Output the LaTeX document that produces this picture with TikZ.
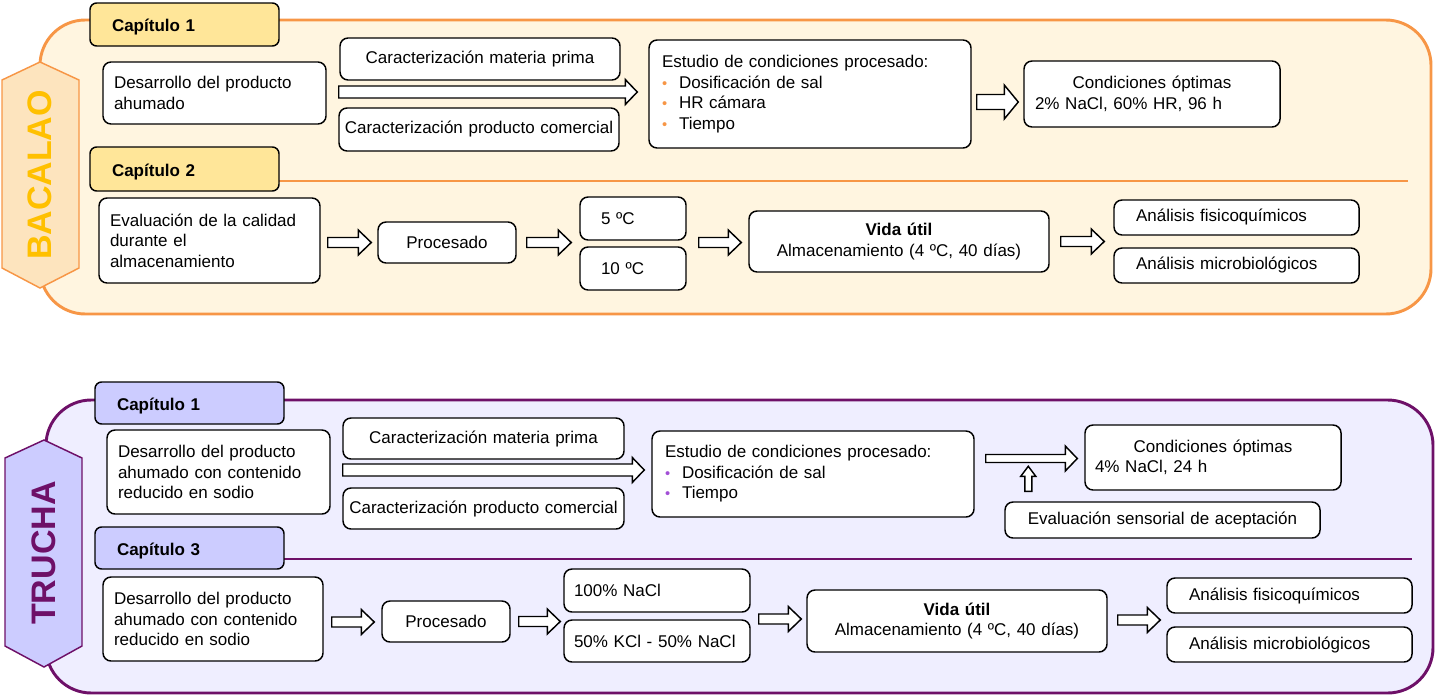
\documentclass[tikz,border=0pt]{standalone}
\usepackage{fontspec}
\setmainfont{Liberation Sans}
\usetikzlibrary{calc}
\definecolor{bacline}{HTML}{F79646}
\definecolor{bacfill}{HTML}{FFF5E0}
\definecolor{bachex}{HTML}{FDE4BE}
\definecolor{bactab}{HTML}{FFE699}
\definecolor{bactext}{HTML}{FFC000}
\definecolor{truline}{HTML}{6E1068}
\definecolor{trufill}{HTML}{EFEEFF}
\definecolor{trutab}{HTML}{CCCCFF}
\definecolor{trubul}{HTML}{A24FD6}
\newcommand{\bodyfont}{\fontsize{12.75}{15.4}\selectfont}
\newcommand{\bul}[1]{\makebox[12.75pt][l]{\textcolor{#1}{\fontsize{11}{11}\selectfont •}}}
% [options]{name}{x1}{y1}{x2}{y2}{pad}{text}, all in px
\newcommand{\cellbox}[8][]{%
  \pgfmathsetmacro{\cellw}{(#5-#3)*0.75}%
  \pgfmathsetmacro{\cellh}{(#6-#4)*0.75}%
  \pgfmathsetmacro{\celltw}{(#5-#3-2*#7)*0.75}%
  \pgfmathsetmacro{\cellpad}{#7*0.75}%
  \node[cell, minimum width=\cellw pt, minimum height=\cellh pt, text width=\celltw pt,
        inner xsep=\cellpad pt, #1] (#2) at ({(#3+#5)/2},{(#4+#6)/2}) {#8};}
\tikzset{
  cell/.style={draw, fill=white, rounded corners=6pt, line width=1.1pt, font=\bodyfont, align=left, inner ysep=1pt},
  tab/.style={rounded corners=5pt, font=\bodyfont\bfseries, text height=13pt, text depth=2pt},
  panel/.style={line width=2.2pt, rounded corners=34pt},
  hexa/.style={line width=1.1pt},
  sidetitle/.style={rotate=90, font=\fontsize{25.5}{25.5}\selectfont\bfseries},
  blockarrow/.style n args={3}{draw, fill=white, line width=1.1pt, line join=miter,
    to path={let \p1=(\tikztostart), \p2=(\tikztotarget) in
      (\x1,{\y1+#1*0.75pt}) -- ({\x2-#3*0.75pt},{\y1+#1*0.75pt}) -- ({\x2-#3*0.75pt},{\y1+#2*0.75pt})
      -- (\x2,\y1) -- ({\x2-#3*0.75pt},{\y1-#2*0.75pt}) -- ({\x2-#3*0.75pt},{\y1-#1*0.75pt})
      -- (\x1,{\y1-#1*0.75pt}) -- cycle}},
  uparrow/.style n args={3}{draw, fill=white, line width=1.1pt, line join=miter,
    to path={let \p1=(\tikztostart), \p2=(\tikztotarget) in
      ({\x1-#1*0.75pt},\y1) -- ({\x1-#1*0.75pt},{\y2-#3*0.75pt}) -- ({\x1-#2*0.75pt},{\y2-#3*0.75pt})
      -- (\x1,\y2) -- ({\x1+#2*0.75pt},{\y2-#3*0.75pt}) -- ({\x1+#1*0.75pt},{\y2-#3*0.75pt})
      -- ({\x1+#1*0.75pt},\y1) -- cycle}},
}
\begin{document}
\begin{tikzpicture}[x=0.75pt, y=-0.75pt]
\useasboundingbox (0,0) rectangle (1438,696);

% BACALAO
\draw[panel, draw=bacline, fill=bacfill] (40,20) rectangle (1431,314);
\draw[hexa, draw=bacline, fill=bachex] (40,62) -- (79,80) -- (79,268) -- (40,288) -- (2,268) -- (2,80) -- cycle;
\node[sidetitle, text=bactext] (bac) at (40,175) {BACALAO};
\draw[bacline, line width=1.5pt] (270,181) -- (1408,181);
\cellbox[tab, fill=bactab]{cap1}{90}{3}{279}{46}{22}{Capítulo 1}
\cellbox[tab, fill=bactab]{cap2}{90}{147}{279}{191}{22}{Capítulo 2}

\cellbox{des1}{103}{62}{326}{124}{11}{Desarrollo del producto\\ahumado}
\cellbox[align=center]{cmp1}{340}{38}{620}{80}{4}{Caracterización materia prima}
\cellbox[align=center]{cpc1}{339}{108}{619}{151}{4}{Caracterización producto comercial}
\cellbox{est1}{649}{40}{971}{148}{13}{Estudio de condiciones procesado:\\
  \bul{bacline}Dosificación de sal\\\bul{bacline}HR cámara\\\bul{bacline}Tiempo}
\cellbox{opt1}{1024}{61}{1280}{127}{11}{{\centering Condiciones óptimas\par}2\% NaCl, 60\% HR, 96 h}

\cellbox{eva}{99}{198}{320}{283}{11}{Evaluación de la calidad\\durante el\\almacenamiento}
\cellbox[align=center]{pro1}{378}{222}{516}{263}{4}{Procesado}
\cellbox{t5}{580}{197}{686}{240}{21}{5 ºC}
\cellbox{t10}{580}{247}{686}{290}{21}{10 ºC}
\cellbox[align=center]{vid1}{749}{211}{1049}{272}{4}{{\bfseries Vida útil}\\Almacenamiento (4 ºC, 40 días)}
\cellbox{fq1}{1114}{200}{1359}{235}{22}{Análisis fisicoquímicos}
\cellbox{mb1}{1114}{248}{1359}{283}{22}{Análisis microbiológicos}

\draw[blockarrow={6}{12.5}{12}] ($(des1.east)+(12,-1)$) to ($(est1.west)+(-11,0)$);
\draw[blockarrow={7.5}{17}{14}] ($(est1.east)+(5,8)$) to ($(opt1.west)+(-5,0)$);
\draw[blockarrow={5}{12.5}{13}] ($(eva.east)+(7,2)$) to ($(pro1.west)+(-6,0)$);
\draw[blockarrow={5}{12.5}{13}] ($(pro1.east)+(10,0)$) to ($(t5.west)+(-8,0)$);
\draw[blockarrow={5}{12.5}{13}] ($(t5.east |- vid1.west)+(12,1)$) to ($(vid1.west)+(-7,0)$);
\draw[blockarrow={5}{12.5}{13}] ($(vid1.east)+(11,0)$) to ($(fq1.west)+(-9,0)$);

% TRUCHA
\draw[panel, draw=truline, fill=trufill] (46,400) rectangle (1433,693);
\draw[hexa, draw=truline, fill=trutab] (44,440) -- (82,458) -- (82,646) -- (44,667) -- (5,646) -- (5,458) -- cycle;
\node[sidetitle, text=truline] (tru) at (44,553) {TRUCHA};
\draw[truline, line width=1.5pt] (275,559) -- (1412,559);
\cellbox[tab, fill=trutab]{cap1t}{95}{382}{284}{424}{22}{Capítulo 1}
\cellbox[tab, fill=trutab]{cap3}{95}{527}{284}{569}{22}{Capítulo 3}

\cellbox{des2}{107}{430}{330}{514}{11}{Desarrollo del producto\\ahumado con contenido\\reducido en sodio}
\cellbox[align=center]{cmp2}{343}{418}{624}{459}{4}{Caracterización materia prima}
\cellbox[align=center]{cpc2}{343}{488}{624}{529}{4}{Caracterización producto comercial}
\cellbox{est2}{652}{431}{974}{517}{13}{Estudio de condiciones procesado:\\
  \bul{trubul}Dosificación de sal\\\bul{trubul}Tiempo}
\cellbox{opt2}{1085}{425}{1341}{490}{10}{{\centering Condiciones óptimas\par}4\% NaCl, 24 h}
\cellbox[align=center]{sens}{1005}{502}{1320}{538}{4}{Evaluación sensorial de aceptación}

\cellbox{des3}{103}{577}{323}{661}{11}{Desarrollo del producto\\ahumado con contenido\\reducido en sodio}
\cellbox[align=center]{pro2}{382}{601}{510}{642}{4}{Procesado}
\cellbox{n100}{564}{569}{750}{612}{10}{100\% NaCl}
\cellbox{kcl}{564}{620}{750}{662}{10}{50\% KCl - 50\% NaCl}
\cellbox[align=center]{vid2}{807}{590}{1107}{652}{4}{{\bfseries Vida útil}\\Almacenamiento (4 ºC, 40 días)}
\cellbox{fq2}{1167}{578}{1412}{613}{22}{Análisis fisicoquímicos}
\cellbox{mb2}{1167}{627}{1412}{662}{22}{Análisis microbiológicos}

\coordinate (upS) at ($(sens.north west)+(24,-10)$);
\coordinate (upT) at ($(sens.north west)+(24,-35)$);
\draw[blockarrow={6}{12.5}{12}] ($(des2.east)+(12,-2)$) to ($(est2.west)+(-7,0)$);
\draw[blockarrow={4}{12.5}{12}] ($(est2.east |- opt2.west)+(11,1)$) to ($(opt2.west)+(-7,0)$);
\draw[uparrow={3.5}{7.5}{10}] (upS) to (upT);
\draw[blockarrow={5}{12.5}{13}] ($(des3.east)+(8,3)$) to ($(pro2.west)+(-7,0)$);
\draw[blockarrow={5}{12.5}{13}] ($(pro2.east)+(8,0)$) to ($(n100.west)+(-3,0)$);
\draw[blockarrow={5}{12.5}{13}] ($(n100.east |- vid2.west)+(8,-2)$) to ($(vid2.west)+(-5,0)$);
\draw[blockarrow={5}{12.5}{13}] ($(vid2.east)+(10,-1)$) to ($(fq2.west)+(-6,0)$);
\end{tikzpicture}
\end{document}
